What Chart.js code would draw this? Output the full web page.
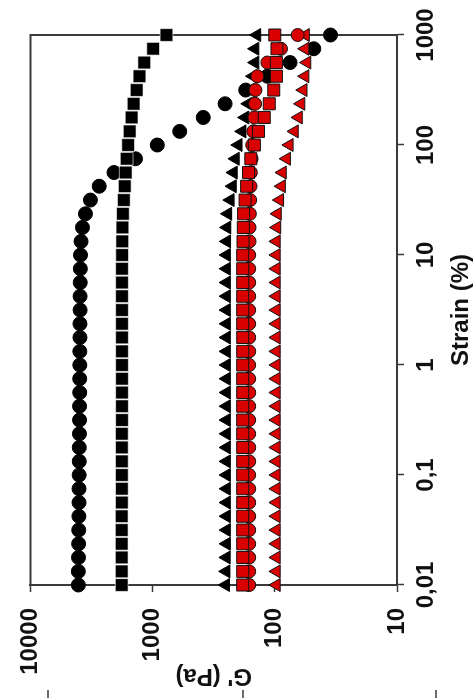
<!DOCTYPE html>
<html lang="en">
<head>
  <meta charset="UTF-8" />
  <title>G' vs Strain</title>
  <script src="https://cdn.jsdelivr.net/npm/chart.js"></script>
  <style>
    html, body { margin: 0; padding: 0; background: #fff; overflow: hidden; }
    body { width: 476px; height: 698px; position: relative; }
    /* the figure is shown turned a quarter turn to the left */
    .turned {
      position: absolute; left: 0; top: 0;
      width: 698px; height: 476px;
      transform-origin: 0 0;
      transform: translateY(698px) rotate(-90deg);
    }
  </style>
</head>
<body>
  <div class="turned"><canvas id="chart" width="698" height="476"></canvas></div>

  <script>
    // strain (%), 8 points per decade
    const strain = [0.01, 0.0133, 0.0178, 0.0237, 0.0316, 0.0422, 0.0562, 0.075,
      0.1, 0.133, 0.178, 0.237, 0.316, 0.422, 0.562, 0.75,
      1, 1.33, 1.78, 2.37, 3.16, 4.22, 5.62, 7.5,
      10, 13.3, 17.8, 23.7, 31.6, 42.2, 56.2, 75,
      100, 133, 178, 237, 316, 422, 562, 750, 1000];

    // G' (Pa) per sample
    const blackCircles = [4050, 4050, 4040, 4030, 4020, 4010, 4000, 4000,
      3990, 3980, 3980, 3970, 3960, 3960, 3950, 3950,
      3940, 3940, 3930, 3930, 3920, 3920, 3910, 3900,
      3890, 3850, 3750, 3545, 3230, 2735, 2070, 1380,
      915, 600, 385, 255, 173, 115, 75, 48, 35];
    const blackSquares = [1790, 1790, 1790, 1790, 1790, 1790, 1785, 1785,
      1785, 1785, 1785, 1785, 1780, 1780, 1780, 1780,
      1780, 1780, 1780, 1780, 1780, 1780, 1780, 1780,
      1775, 1770, 1765, 1750, 1720, 1690, 1660, 1630,
      1585, 1540, 1485, 1430, 1350, 1280, 1170, 990, 770];
    const blackTriangles = [252, 250, 249, 248, 248, 248, 248, 248,
      248, 248, 248, 248, 248, 248, 248, 248,
      248, 248, 248, 248, 248, 248, 248, 248,
      248, 247, 246, 242, 231, 222, 218, 210,
      199, 185, 175, 165, 159, 151, 145, 145, 140];
    const redSquares = [183, 183, 183, 183, 183, 183, 183, 183,
      183, 183, 183, 183, 183, 183, 183, 183,
      183, 183, 183, 183, 183, 183, 183, 183,
      183, 182, 181, 180, 175, 170, 164, 157,
      147, 136, 122, 111, 102, 97, 97, 96, 100];
    const redCircles = [162, 162, 162, 162, 162, 162, 162, 162,
      162, 162, 162, 162, 162, 162, 162, 162,
      162, 162, 162, 162, 162, 162, 162, 162,
      162, 161, 161, 160, 159, 158, 157, 155,
      153, 150, 147, 145, 144, 139, 115, 89, 65];
    const redTriangles = [97, 97, 97, 97, 97, 97, 97, 97,
      97, 97, 97, 97, 97, 97, 97, 97,
      97, 97, 97, 97, 97, 97, 97, 97,
      97, 97, 96, 95, 91, 88, 86.5, 80,
      76, 69, 64, 61, 58.5, 56.5, 54.5, 56.5, 56];

    const strainTicks = [0.01, 0.1, 1, 10, 100, 1000];
    const strainTickLabels = ['0,01', '0,1', '1', '10', '100', '1000'];
    const modulusTicks = [10, 100, 1000, 10000];

    const RED = '#d80000';
    const AXIS = '#3a3a3a';
    const FONT = "'Liberation Sans', Arial, sans-serif";

    function pts(vals) {
      return strain.map((s, i) => ({ x: s, y: vals[i] }));
    }

    // closes the box and adds the cut-off ticks at the picture's edge
    const frame = {
      id: 'frame',
      beforeDatasetsDraw(chart) {
        const { ctx, chartArea: a } = chart;
        ctx.save();
        ctx.strokeStyle = AXIS;
        ctx.lineWidth = 2;
        ctx.beginPath();
        ctx.moveTo(a.left, a.top);
        ctx.lineTo(a.right, a.top);
        ctx.lineTo(a.right, a.bottom);
        ctx.stroke();
        ctx.lineWidth = 1.5;
        [48, 243, 436].forEach(v => {
          ctx.beginPath();
          ctx.moveTo(0, v);
          ctx.lineTo(8, v);
          ctx.stroke();
        });
        ctx.restore();
      }
    };

    Chart.defaults.font.family = FONT;
    Chart.defaults.color = '#111';

    new Chart(document.getElementById('chart'), {
      type: 'scatter',
      data: {
        datasets: [
          { label: 'red squares', data: pts(redSquares), pointStyle: 'rect', pointRadius: 8.5,
            backgroundColor: RED, borderColor: '#111', borderWidth: 1 },
          { label: 'red circles', data: pts(redCircles), pointStyle: 'circle', pointRadius: 6.5,
            backgroundColor: RED, borderColor: '#111', borderWidth: 1 },
          { label: 'red triangles', data: pts(redTriangles), pointStyle: 'triangle', pointRadius: 7.5,
            backgroundColor: RED, borderColor: '#111', borderWidth: 1 },
          { label: 'black triangles', data: pts(blackTriangles), pointStyle: 'triangle', pointRadius: 7.5,
            backgroundColor: '#000', borderColor: '#000', borderWidth: 1 },
          { label: 'black squares', data: pts(blackSquares), pointStyle: 'rect', pointRadius: 9,
            backgroundColor: '#000', borderColor: '#fff', borderWidth: 0.6 },
          { label: 'black circles', data: pts(blackCircles), pointStyle: 'circle', pointRadius: 7,
            backgroundColor: '#000', borderColor: '#000', borderWidth: 1 }
        ].map(d => Object.assign(d, { showLine: false, clip: false, pointHoverRadius: d.pointRadius }))
      },
      options: {
        responsive: false,
        animation: false,
        devicePixelRatio: 1,
        layout: { padding: { top: 24, right: 35, left: 0, bottom: 0 } },
        plugins: { legend: { display: false }, tooltip: { enabled: false } },
        scales: {
          x: {
            type: 'logarithmic',
            min: 0.01,
            max: 1000,
            afterBuildTicks: s => { s.ticks = strainTicks.map(v => ({ value: v })); },
            afterFit: s => { s.height = 79; },
            ticks: {
              autoSkip: false, maxRotation: 0, padding: 8,
              font: { size: 24, weight: 'bold' },
              callback: v => strainTickLabels[strainTicks.indexOf(v)]
            },
            grid: { drawOnChartArea: false, drawTicks: true, tickLength: 7, tickColor: AXIS, tickWidth: 1.5 },
            border: { display: true, color: AXIS, width: 2 },
            title: { display: true, text: 'Strain (%)', padding: { top: 0, bottom: 0 },
              font: { size: 24, weight: 'bold' } }
          },
          y: {
            type: 'logarithmic',
            min: 10,
            max: 10000,
            afterBuildTicks: s => { s.ticks = modulusTicks.map(v => ({ value: v })); },
            afterFit: s => { s.width = 113; },
            ticks: {
              autoSkip: false, padding: 16,
              font: { size: 24, weight: 'bold' },
              callback: v => String(v)
            },
            grid: { drawOnChartArea: false, drawTicks: true, tickLength: 7, tickColor: AXIS, tickWidth: 1.5 },
            border: { display: true, color: AXIS, width: 2 },
            title: { display: true, text: "G' (Pa)", padding: { top: 8, bottom: 0 },
              font: { size: 24, weight: 'bold' } }
          }
        }
      },
      plugins: [frame]
    });
  </script>
</body>
</html>
